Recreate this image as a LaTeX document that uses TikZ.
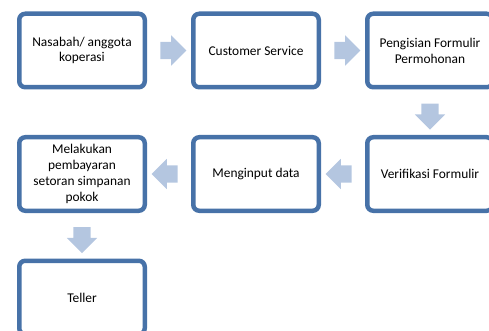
\documentclass[tikz,border=0pt]{standalone}
\usepackage{fontspec}
\setmainfont{Carlito}
\usetikzlibrary{positioning,shapes.arrows}
\definecolor{boxblue}{RGB}{71,114,168}
\definecolor{arrowblue}{RGB}{180,198,224}

\begin{document}
\begin{tikzpicture}[x=1pt,y=1pt,node distance=45.5pt and 44pt,
        base/.style={rectangle,rounded corners=6pt,draw=boxblue,line width=4.5pt,fill=white,
            minimum width=125.5pt,minimum height=73.5pt,align=center,inner sep=2pt,
            font=\fontsize{13.4}{15.8}\selectfont},
        pointer/.style={single arrow,fill=arrowblue,draw=none,inner sep=0pt,
            minimum height=26pt,inner ysep=8.5pt,single arrow head extend=6.5pt,
            sloped,allow upside down}]
    \useasboundingbox (0,0) rectangle (489,-331);
    % top row, left to right
    \node[base] (s1) at (82,-50.5) {Nasabah/ anggota\\koperasi};
    \node[base,right=of s1] (s2) {Customer Service};
    \node[base,right=of s2] (s3) {Pengisian Formulir\\Permohonan};
    % second row runs back to the left
    \node[base,below=of s3] (s4) {Verifikasi Formulir};
    \node[base,left=of s4] (s5) {Menginput data};
    \node[base,left=of s5] (s6) {Melakukan\\pembayaran\\setoran simpanan\\pokok};
    \node[base,below=of s6] (s7) {Teller};
    % block arrows halfway between neighbouring boxes
    \foreach \from/\to in {s1/s2,s2/s3,s3/s4,s4/s5,s5/s6,s6/s7}
        \path (\from) -- node[pointer] {} (\to);
\end{tikzpicture}
\end{document}
